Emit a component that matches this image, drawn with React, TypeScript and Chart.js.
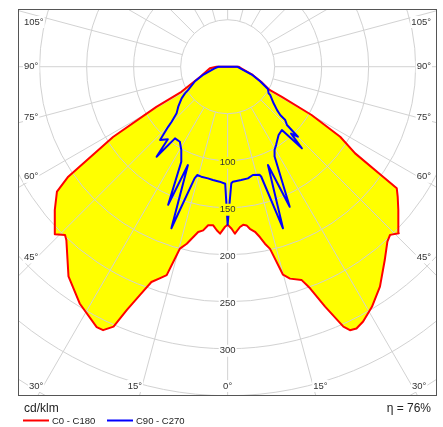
import React, { useEffect, useRef } from "react";
import { Chart, registerables } from "chart.js";

Chart.register(...registerables);

// ---- data (angles in degrees from nadir, intensities in cd/klm) ----
const SERIES_NAMES = ["C0 - C180", "C90 - C270"];
const UNIT_LABEL = "cd/klm";
const EFFICIENCY_LABEL = "\u03B7 = 76%";
const RADIAL_TICKS = [100, 150, 200, 250, 300];
const GRID_CIRCLES = [50, 100, 150, 200, 250, 300, 350, 400, 450, 500];
const ANGLE_TICKS = [0, 15, 30, 45, 60, 75, 90, 105];

const C0_ANGLES = [0, 1.4, 2.5, 4.4, 5.6, 6.8, 7.8, 9.4, 10.7, 11.9, 13.1, 14.9, 16.4, 19.1, 20.4, 22.1, 24, 24.9, 26.2, 28, 31, 34.7, 39.1, 42.4, 44, 45.8, 50, 52.6, 54.3, 54.7, 55.8, 58.1, 60.1, 60.9, 61, 65.9, 71.8, 83, 90];
const C0_VALUES = [168, 172.4, 177.8, 171, 169, 170, 174, 178, 184.4, 192.4, 199, 229, 235, 240, 251.5, 275.5, 302.7, 309, 310.4, 307, 298, 284.6, 265, 252, 248.7, 254, 237, 227.7, 221.5, 202.5, 164, 141, 103, 66, 51, 39, 28, 14.6, 12];

const C180_ANGLES = [0, 1, 2.6, 3.8, 5.2, 7, 8.5, 10.1, 11.4, 13, 14.7, 16.3, 17.7, 19.5, 21, 22.5, 23.7, 25.3, 26.7, 32, 37.2, 42.9, 44, 45.9, 50.3, 53.8, 55.4, 58.5, 60.6, 61.5, 70, 85, 90];
const C180_VALUES = [168, 170.6, 177.8, 174.4, 169.4, 170, 176, 178.6, 184.8, 193.3, 200, 231, 236, 243, 260, 280, 302, 310, 310, 297, 280, 252, 249, 256, 239, 225, 206, 143, 87, 56, 31, 19, 12];

const C90_ANGLES = [0, 1.8, 2.6, 6.8, 10.3, 13.1, 16.5, 17, 18.9, 22.3, 23.9, 27.6, 29.4, 31.7, 36.7, 40.6, 42.3, 43.5, 45.1, 45.5, 47.2, 47.4, 48.7, 51.5, 56.4, 57, 61, 66, 72, 83, 90];
const C90_VALUES = [168, 124, 122.5, 121.4, 120.7, 118.3, 120, 122.4, 181.7, 113, 163, 108, 101.7, 98, 90.7, 88.7, 117.4, 98, 105.5, 88.5, 83.5, 76, 70, 62.5, 54.4, 52, 49, 37.5, 27, 13.5, 10];

const C270_ANGLES = [1.2, 4, 7.4, 10, 13.5, 15.7, 16.5, 19.2, 22, 23.3, 26, 29.1, 32.5, 36.3, 38.3, 39.5, 42.7, 44.7, 45.5, 47.6, 51, 55.5, 58, 59.4, 66, 72, 83, 90];
const C270_VALUES = [124.5, 122.6, 121.5, 120.6, 120.3, 119.7, 123.8, 182, 112.8, 160, 112.5, 101.4, 94.6, 94.6, 122, 100, 106, 90, 83.5, 73.5, 67.6, 59.4, 53.5, 49, 38, 27, 14, 10];

// view window of the diagram, in cd/klm
const X_MIN = -223;
const X_MAX = 222.7;
const Y_MIN = -350.3;
const Y_MAX = 61.4;

const FONT = "'Liberation Sans', Arial, sans-serif";

function toXY(angleDeg: number, r: number, side: number) {
  const a = (angleDeg * Math.PI) / 180;
  return { x: side * r * Math.sin(a), y: -r * Math.cos(a) };
}

function buildCurve(leftAngles: number[], leftValues: number[], rightAngles: number[], rightValues: number[]) {
  const pts: { x: number; y: number }[] = [{ x: 0, y: 0 }];
  for (let i = leftAngles.length - 1; i >= 0; i--) pts.push(toXY(leftAngles[i], leftValues[i], -1));
  for (let i = 0; i < rightAngles.length; i++) pts.push(toXY(rightAngles[i], rightValues[i], 1));
  pts.push({ x: 0, y: 0 });
  return pts;
}

function drawGrid(chart: any) {
  const { ctx, chartArea: a, scales } = chart;
  const sx = scales.x;
  const sy = scales.y;
  const cx = sx.getPixelForValue(0);
  const cy = sy.getPixelForValue(0);
  const k = (sx.getPixelForValue(100) - cx) / 100;
  ctx.save();
  ctx.beginPath();
  ctx.rect(a.left, a.top, a.right - a.left, a.bottom - a.top);
  ctx.clip();
  ctx.strokeStyle = "#d2d2d2";
  ctx.lineWidth = 1;
  for (const r of GRID_CIRCLES) {
    ctx.beginPath();
    ctx.arc(cx, cy, r * k, 0, Math.PI * 2);
    ctx.stroke();
  }
  const inner = GRID_CIRCLES[0] * k;
  for (let deg = 0; deg < 360; deg += 15) {
    const t = (deg * Math.PI) / 180;
    const dx = Math.sin(t);
    const dy = Math.cos(t);
    ctx.beginPath();
    ctx.moveTo(cx + inner * dx, cy + inner * dy);
    ctx.lineTo(cx + 2000 * dx, cy + 2000 * dy);
    ctx.stroke();
  }
  ctx.restore();
}

function labelWithBg(ctx: any, text: string, x: number, y: number, align: string, bg: string) {
  ctx.textAlign = align;
  const w = ctx.measureText(text).width;
  let left = x;
  if (align === "center") left = x - w / 2;
  else if (align === "right") left = x - w;
  ctx.fillStyle = bg;
  ctx.fillRect(left - 1, y - 6, w + 2, 12);
  ctx.fillStyle = "#333333";
  ctx.fillText(text, x, y);
}

function drawLabels(chart: any) {
  const { ctx, chartArea: a, scales } = chart;
  const sx = scales.x;
  const sy = scales.y;
  const cx = sx.getPixelForValue(0);
  const cy = sy.getPixelForValue(0);
  const k = (sx.getPixelForValue(100) - cx) / 100;
  const dpr = chart.currentDevicePixelRatio || 1;
  ctx.save();
  ctx.font = `9.5px ${FONT}`;
  ctx.textBaseline = "middle";

  // radial value labels
  for (const v of RADIAL_TICKS) {
    const ty = cy + v * k + 2;
    const w = ctx.measureText(String(v)).width;
    const px = ctx.getImageData(Math.round((cx - w / 2 - 3) * dpr), Math.round(ty * dpr), 1, 1).data;
    const bg = px[3] < 128 ? "#ffffff" : `rgb(${px[0]},${px[1]},${px[2]})`;
    labelWithBg(ctx, String(v), cx, ty, "center", bg);
  }

  // angle labels on the frame
  const sideX = 37;
  for (const ang of ANGLE_TICKS) {
    const sides = ang === 0 ? [0] : [-1, 1];
    for (const s of sides) {
      const t = (ang * Math.PI) / 180;
      const txt = `${ang}\u00B0`;
      let ySide = Infinity;
      if (s !== 0) ySide = cy + (cx - (a.left + sideX - 18)) / Math.tan(t);
      if (s !== 0 && Math.sin(t) > 0 && ySide <= a.bottom - 14) {
        const yy = Math.max(ySide, a.top + 13);
        if (s < 0) labelWithBg(ctx, txt, a.left + 6, yy, "left", "#ffffff");
        else labelWithBg(ctx, txt, a.right - 6, yy, "right", "#ffffff");
      } else {
        const yy = a.bottom - 10;
        const xl = cx + s * (yy - cy) * Math.tan(t);
        const align = s < 0 ? "right" : s > 0 ? "left" : "center";
        labelWithBg(ctx, txt, xl, yy, align, "#ffffff");
      }
    }
  }

  // frame
  ctx.strokeStyle = "#555555";
  ctx.lineWidth = 1;
  ctx.strokeRect(a.left + 0.5, a.top + 0.5, a.right - a.left - 1, a.bottom - a.top - 1);

  // unit, efficiency and legend
  ctx.fillStyle = "#222222";
  ctx.font = `12px ${FONT}`;
  ctx.textAlign = "left";
  ctx.fillText(UNIT_LABEL, a.left + 6, a.bottom + 13);
  ctx.textAlign = "right";
  ctx.fillText(EFFICIENCY_LABEL, a.right - 6, a.bottom + 13);

  const colors = ["#ff0000", "#0000ff"];
  const ly = a.bottom + 24.5;
  const starts = [a.left + 5, a.left + 89];
  ctx.font = `9.5px ${FONT}`;
  ctx.textAlign = "left";
  for (let i = 0; i < SERIES_NAMES.length; i++) {
    ctx.strokeStyle = colors[i];
    ctx.lineWidth = 2;
    ctx.beginPath();
    ctx.moveTo(starts[i], ly);
    ctx.lineTo(starts[i] + 26, ly);
    ctx.stroke();
    ctx.fillStyle = "#222222";
    ctx.fillText(SERIES_NAMES[i], starts[i] + 29, ly + 0.5);
  }
  ctx.restore();
}

const polarPlugin = {
  id: "polarPlugin",
  beforeDraw(chart: any) {
    const { ctx, width, height } = chart;
    ctx.save();
    ctx.fillStyle = "#ffffff";
    ctx.fillRect(0, 0, width, height);
    ctx.restore();
  },
  afterDatasetDraw(chart: any, args: any) {
    if (args.index === 0) drawGrid(chart);
  },
  afterDraw(chart: any) {
    drawLabels(chart);
  },
};

export default function App() {
  const ref = useRef<HTMLCanvasElement | null>(null);
  useEffect(() => {
    if (!ref.current) return;
    const red = buildCurve(C180_ANGLES, C180_VALUES, C0_ANGLES, C0_VALUES);
    const blue = buildCurve(C270_ANGLES, C270_VALUES, C90_ANGLES, C90_VALUES);
    const chart = new Chart(ref.current, {
      type: "scatter",
      data: {
        datasets: [
          {
            label: "fill",
            data: red,
            showLine: true,
            fill: "shape",
            backgroundColor: "#ffff00",
            borderColor: "rgba(0,0,0,0)",
            borderWidth: 0,
            pointRadius: 0,
            order: 3,
          } as any,
          {
            label: SERIES_NAMES[0],
            data: red,
            showLine: true,
            fill: false,
            borderColor: "#ff0000",
            borderWidth: 2,
            pointRadius: 0,
            order: 2,
          },
          {
            label: SERIES_NAMES[1],
            data: blue,
            showLine: true,
            fill: false,
            borderColor: "#0000ff",
            borderWidth: 2,
            pointRadius: 0,
            order: 1,
          },
        ],
      },
      options: {
        animation: false,
        responsive: false,
        events: [],
        layout: { padding: { left: 18, top: 9, right: 6, bottom: 31 } },
        scales: {
          x: { type: "linear", min: X_MIN, max: X_MAX, display: false },
          y: { type: "linear", min: Y_MIN, max: Y_MAX, display: false },
        },
        plugins: { legend: { display: false }, tooltip: { enabled: false } },
        elements: { line: { tension: 0, borderJoinStyle: "round" } },
      },
      plugins: [polarPlugin],
    });
    return () => chart.destroy();
  }, []);
  return (
    <div style={{ position: "absolute", left: 0, top: 0, width: 443, height: 427, background: "#fff" }}>
      <canvas ref={ref} width={443} height={427} style={{ width: 443, height: 427, display: "block" }} />
    </div>
  );
}
